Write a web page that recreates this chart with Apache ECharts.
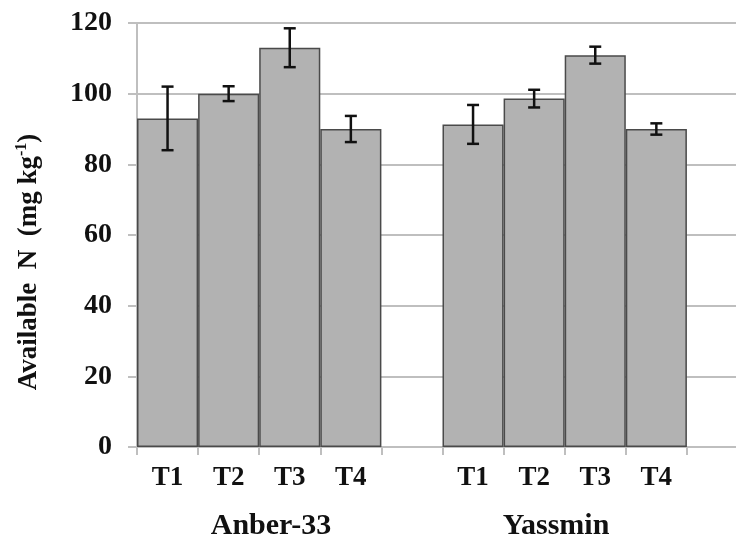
<!DOCTYPE html>
<html>
<head>
<meta charset="utf-8">
<script src="https://cdn.jsdelivr.net/npm/echarts@6/dist/echarts.min.js"></script>
<style>
html,body{margin:0;padding:0;background:#fff;overflow:hidden;width:736px;height:540px;}
#chart{width:748px;height:540px;}
</style>
</head>
<body>
<div id="chart"></div>
<script>
// ---- data ----
const categories = ['T1','T2','T3','T4','','T1','T2','T3','T4',''];
const groupLabels = ['Anber-33','Yassmin'];
const values = [93, 100, 113, 90, null, 91.3, 98.6, 110.9, 90];
const errors = [9, 2.1, 5.5, 3.7, null, 5.5, 2.5, 2.4, 1.6];
const yTicks = [0, 20, 40, 60, 80, 100, 120];
const yName = 'Available  N  (mg kg';

const FONT = "'Liberation Serif', 'Times New Roman', serif";
const GRID = '#bfbfbf';

const chart = echarts.init(document.getElementById('chart'));

const barData = values.map(v => (v == null ? '-' : v));
const errData = [];
values.forEach((v, i) => {
  if (v != null) errData.push([i, v - errors[i], v + errors[i]]);
});

chart.setOption({
  animation: false,
  backgroundColor: '#fff',
  grid: { left: 137, top: 23, right: 0, height: 424, containLabel: false },
  xAxis: {
    type: 'category',
    data: categories,
    boundaryGap: true,
    axisLine: { show: true, lineStyle: { color: GRID, width: 2 } },
    axisTick: { show: true, length: 8, alignWithLabel: false, lineStyle: { color: GRID, width: 2 } },
    axisLabel: { color: '#111', fontFamily: FONT, fontWeight: 'bold', fontSize: 27, margin: 18 },
    splitLine: { show: false }
  },
  yAxis: {
    type: 'value',
    min: yTicks[0],
    max: yTicks[yTicks.length - 1],
    interval: yTicks[1] - yTicks[0],
    axisLine: { show: true, lineStyle: { color: GRID, width: 2 } },
    axisTick: { show: true, length: 9, lineStyle: { color: GRID, width: 2 } },
    axisLabel: { color: '#111', fontFamily: FONT, fontWeight: 'bold', fontSize: 28, margin: 25 },
    splitLine: { show: true, lineStyle: { color: GRID, width: 2 } }
  },
  graphic: [
    {
      type: 'text',
      x: 29, y: 262,
      rotation: Math.PI / 2,
      style: {
        text: '{a|' + yName + '}{s|-1}{a|)}',
        align: 'center',
        verticalAlign: 'middle',
        rich: {
          a: { fontFamily: FONT, fontWeight: 'bold', fontSize: 27, fill: '#111', lineHeight: 30 },
          s: { fontFamily: FONT, fontWeight: 'bold', fontSize: 16, fill: '#111', lineHeight: 30, verticalAlign: 'top', padding: [0, 0, 10, 0] }
        }
      }
    },
    {
      type: 'text', x: 271, y: 526,
      style: { text: groupLabels[0], align: 'center', verticalAlign: 'middle',
        fontFamily: FONT, fontWeight: 'bold', fontSize: 30, fill: '#111' }
    },
    {
      type: 'text', x: 556, y: 526,
      style: { text: groupLabels[1], align: 'center', verticalAlign: 'middle',
        fontFamily: FONT, fontWeight: 'bold', fontSize: 30, fill: '#111' }
    }
  ],
  series: [
    {
      type: 'bar',
      data: barData,
      barWidth: '100%',
      itemStyle: { color: '#b2b2b2', borderColor: '#4a4a4a', borderWidth: 1.5 },
      z: 2
    },
    {
      type: 'custom',
      data: errData,
      z: 5,
      renderItem: function (params, api) {
        const x = api.value(0);
        const lo = api.coord([x, api.value(1)]);
        const hi = api.coord([x, api.value(2)]);
        const hw = 6;
        const st = { stroke: '#111', lineWidth: 2.5 };
        return {
          type: 'group',
          children: [
            { type: 'line', shape: { x1: lo[0], y1: lo[1], x2: hi[0], y2: hi[1] }, style: st },
            { type: 'line', shape: { x1: lo[0] - hw, y1: lo[1], x2: lo[0] + hw, y2: lo[1] }, style: st },
            { type: 'line', shape: { x1: hi[0] - hw, y1: hi[1], x2: hi[0] + hw, y2: hi[1] }, style: st }
          ]
        };
      }
    }
  ]
});
</script>
</body>
</html>
